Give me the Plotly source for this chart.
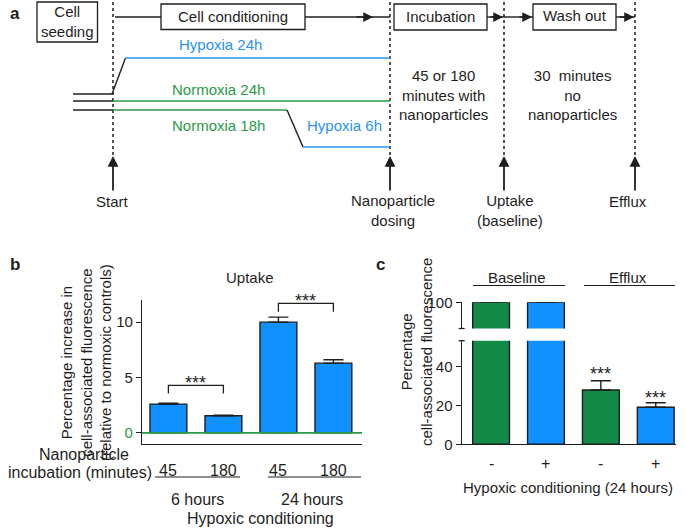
import plotly.graph_objects as go

W, H = 685, 530
def X(p): return p / W
def Y(p): return 1 - p / H

BLACK = "#1e1e1e"
GREEN_BAR = "#138a48"
BLUE_BAR = "#1190ff"
GREEN_TXT = "#2a9a4a"
BLUE_TXT = "#2b92f5"
FONT = "Arial, Liberation Sans, sans-serif"

# ---------------- data ----------------
# panel b
b_categories = ["6h-45", "6h-180", "24h-45", "24h-180"]
b_tick_labels = ["45", "180", "45", "180"]
b_values = [2.6, 1.55, 10.0, 6.3]
b_errors = [0.08, 0.06, 0.45, 0.3]
b_sig_pairs = [(0, 1), (2, 3)]
b_sig_bracket_y = [4.3, 11.7]
b_group_labels = ["6 hours", "24 hours"]
b_yticks = [0, 5, 10]

# panel c
c_categories = ["base-", "base+", "eff-", "eff+"]
c_tick_labels = ["-", "+", "-", "+"]
c_values = [100, 100, 27.8, 19.0]
c_errors = [0.8, 0.5, 4.8, 2.3]
c_colors = [GREEN_BAR, BLUE_BAR, GREEN_BAR, BLUE_BAR]
c_sig = ["", "", "***", "***"]
c_sig_star_y = [None, None, 38.1, 25.8]
c_group_labels = ["Baseline", "Efflux"]
c_lower_ticks = [0, 20, 40]
c_upper_ticks = [100]

fig = go.Figure()

# ---------------- panel b bars ----------------
fig.add_trace(go.Bar(
    x=b_categories, y=b_values, width=0.67,
    marker=dict(color=BLUE_BAR, line=dict(color=BLACK, width=1.4)),
    error_y=dict(type="data", array=b_errors, arrayminus=[0] * 4, symmetric=False,
                 color=BLACK, thickness=1.4, width=10),
    xaxis="x", yaxis="y", showlegend=False, hoverinfo="skip"))

# ---------------- panel c bars (lower and upper segments) ----------------
for xa, ya in (("x3", "y3"), ("x4", "y4")):
    fig.add_trace(go.Bar(
        x=c_categories, y=c_values, width=0.67,
        marker=dict(color=c_colors, line=dict(color=BLACK, width=1.4)),
        error_y=dict(type="data", array=c_errors, arrayminus=[0] * 4, symmetric=False,
                     color=BLACK, thickness=1.4, width=10),
        xaxis=xa, yaxis=ya, showlegend=False, hoverinfo="skip"))

line_common = dict(showgrid=False, zeroline=False, linecolor=BLACK, linewidth=1.3, tickcolor=BLACK)
tickfont = dict(size=15, color=BLACK, family=FONT)

fig.update_layout(
    width=W, height=H, margin=dict(l=0, r=0, t=0, b=0, pad=0, autoexpand=False),
    paper_bgcolor="white", plot_bgcolor="white",
    font=dict(family=FONT, size=15, color=BLACK),
    xaxis=dict(domain=[X(142), X(362)], range=[-0.48, 3.52], showticklabels=False,
               ticks="", showline=True, anchor="y", **line_common),
    yaxis=dict(domain=[Y(444), Y(300)], range=[-1, 12], anchor="x",
               showline=True, ticks="outside", ticklen=5, tickwidth=1.3,
               tickvals=b_yticks, tickfont=tickfont,
               ticktext=[f'<span style="color:{GREEN_TXT}">{b_yticks[0]}</span>'] + [str(v) for v in b_yticks[1:]],
               **line_common),
    xaxis3=dict(domain=[X(461.7), X(675.5)], range=[-0.535, 3.36], showticklabels=False,
                ticks="", showline=True, anchor="y3", **line_common),
    yaxis3=dict(domain=[Y(444.3), Y(340.7)], range=[0, 53.1], anchor="x3",
                showline=True, ticks="outside", ticklen=5, tickwidth=1.3,
                tickvals=c_lower_ticks, tickfont=tickfont, **line_common),
    xaxis4=dict(domain=[X(461.7), X(675.5)], range=[-0.535, 3.36], visible=False, anchor="y4"),
    yaxis4=dict(domain=[Y(328.5), Y(302.3)], range=[86.6, 100.0], anchor="x4",
                showline=True, ticks="outside", ticklen=5, tickwidth=1.3,
                tickvals=c_upper_ticks, tickfont=tickfont, **line_common),
)

shapes = []
ann = []

def line(x0, y0, x1, y1, color=BLACK, width=1.4, dash="solid"):
    shapes.append(dict(type="line", xref="paper", yref="paper",
                       x0=X(x0), y0=Y(y0), x1=X(x1), y1=Y(y1),
                       line=dict(color=color, width=width, dash=dash)))

def rect(x0, y0, x1, y1):
    shapes.append(dict(type="rect", xref="paper", yref="paper",
                       x0=X(x0), y0=Y(y0), x1=X(x1), y1=Y(y1),
                       line=dict(color=BLACK, width=1.3), fillcolor="white"))

def text(x, y, s, size=15, color=BLACK, xanchor="center", yanchor="middle", bold=False, **kw):
    if bold:
        s = f"<b>{s}</b>"
    ann.append(dict(x=X(x), y=Y(y), xref="paper", yref="paper", text=s, showarrow=False,
                    font=dict(size=size, color=color, family=FONT),
                    xanchor=xanchor, yanchor=yanchor, **kw))

def arrow(xtip, ytip, ax, ay, width=1.5, size=1.3):
    ann.append(dict(x=X(xtip), y=Y(ytip), xref="paper", yref="paper", text="",
                    showarrow=True, ax=ax, ay=ay, arrowhead=2, arrowsize=size,
                    arrowwidth=width, arrowcolor=BLACK, standoff=0))

# ---------------- panel a: schematic ----------------
text(8, 14, "a", size=17, bold=True, xanchor="left")
for xm in (113, 390, 504, 635):
    line(xm, 2, xm, 163, dash="dot", width=1.5)
    arrow(xm, 156, 0, 36, width=1.8, size=1.2)
line(115, 17, 161, 17)
line(305, 17, 390, 17)
arrow(373, 17, -18, 0)
line(487, 17, 504, 17)
arrow(503, 17, -14, 0)
line(504, 17, 533, 17)
arrow(532, 17, -14, 0)
line(616, 17, 635, 17)
arrow(634, 17, -16, 0)
rect(37, 2, 97.5, 42)
text(67, 22, "Cell<br>seeding")
rect(161, 4, 305, 29.5)
text(233, 16.5, "Cell conditioning")
rect(394, 4, 487, 30)
text(440.5, 16.5, "Incubation")
rect(533, 4, 616, 30)
text(574.5, 16, "Wash out")
line(73, 94, 112, 94)
line(73, 101, 113, 101)
line(73, 110, 113, 110)
line(112, 94, 125.5, 58)
line(125.5, 58, 390, 58, color=BLUE_TXT, width=1.6)
line(113, 101, 390, 101, color=GREEN_TXT, width=1.6)
line(113, 110, 287, 110, color=GREEN_TXT, width=1.6)
line(287, 110, 303, 147)
line(303, 147, 390, 147, color=BLUE_TXT, width=1.6)
text(220, 45, "Hypoxia 24h", color=BLUE_TXT)
text(218, 90, "Normoxia 24h", color=GREEN_TXT)
text(218, 126, "Normoxia 18h", color=GREEN_TXT)
text(344, 126, "Hypoxia 6h", color=BLUE_TXT)
text(443, 95, "45 or 180<br>minutes with<br>nanoparticles")
text(572, 95, "30  minutes<br>no<br>nanoparticles")
text(113, 201, "Start")
text(393, 210, "Nanoparticle<br>dosing")
text(510, 210, "Uptake<br>(baseline)")
text(628, 201, "Efflux")

# ---------------- panel b decorations ----------------
text(8, 264, "b", size=17, bold=True, xanchor="left")
text(250, 277, "Uptake")
ann.append(dict(x=X(86), y=Y(363), xref="paper", yref="paper", textangle=-90,
                xanchor="center", yanchor="middle",
                text="Percentage increase in<br>cell-associated fluorescence<br>(relative to normoxic controls)",
                showarrow=False, font=dict(size=15, color=BLACK, family=FONT)))
shapes.append(dict(type="line", xref="x domain", yref="y", x0=0, x1=1, y0=0, y1=0,
                   line=dict(color=GREEN_TXT, width=1.6), layer="above"))
for (i, j), yb in zip(b_sig_pairs, b_sig_bracket_y):
    shapes.append(dict(type="path", xref="x", yref="y",
                       path=f"M {i},{yb - 0.75} L {i},{yb} L {j},{yb} L {j},{yb - 0.75}",
                       line=dict(color=BLACK, width=1.3)))
    ann.append(dict(x=(i + j) / 2, y=yb, xref="x", yref="y", text="***", showarrow=False,
                    font=dict(size=18, color=BLACK, family=FONT), yanchor="middle", yshift=2.5))
for cat, lab in zip(b_categories, b_tick_labels):
    ann.append(dict(x=cat, y=Y(470), xref="x", yref="paper", text=lab, showarrow=False,
                    xanchor="center", yanchor="middle",
                    font=dict(size=16, color=BLACK, family=FONT)))
text(84, 454, "Nanoparticle", size=16)
text(80, 472, "incubation (minutes)", size=16)
line(155, 477, 240, 477, width=1.2)
line(268, 477, 361, 477, width=1.2)
text(197, 499, b_group_labels[0], size=16)
text(312, 499, b_group_labels[1], size=16)
text(260, 518, "Hypoxic conditioning", size=16)

# ---------------- panel c decorations ----------------
text(374, 264, "c", size=17, bold=True, xanchor="left")
ann.append(dict(x=X(416), y=Y(352), xref="paper", yref="paper", textangle=-90,
                xanchor="center", yanchor="middle",
                text="Percentage<br>cell-associated fluorescence",
                showarrow=False, font=dict(size=15, color=BLACK, family=FONT)))
line(458.7, 328.5, 464.7, 328.5, width=1.3)
line(458.7, 340.7, 464.7, 340.7, width=1.3)
for cat, lab in zip(c_categories, c_tick_labels):
    ann.append(dict(x=cat, y=Y(463), xref="x3", yref="paper", text=lab, showarrow=False,
                    xanchor="center", yanchor="middle",
                    font=dict(size=16, color=BLACK, family=FONT)))
for cat, s, ys in zip(c_categories, c_sig, c_sig_star_y):
    if s:
        ann.append(dict(x=cat, y=ys, xref="x3", yref="y3", text=s, showarrow=False,
                        font=dict(size=18, color=BLACK, family=FONT), yanchor="middle", yshift=-4))
text(517, 277, c_group_labels[0])
line(473, 285.5, 565, 285.5, width=1.2)
text(628, 277, c_group_labels[1])
line(584, 285.5, 675, 285.5, width=1.2)
text(568, 487, "Hypoxic conditioning (24 hours)")

fig.update_layout(shapes=shapes, annotations=ann)
fig.write_html("out.html", config={"displayModeBar": False},
               post_script="document.body.style.margin='0';document.body.style.overflow='hidden';")
